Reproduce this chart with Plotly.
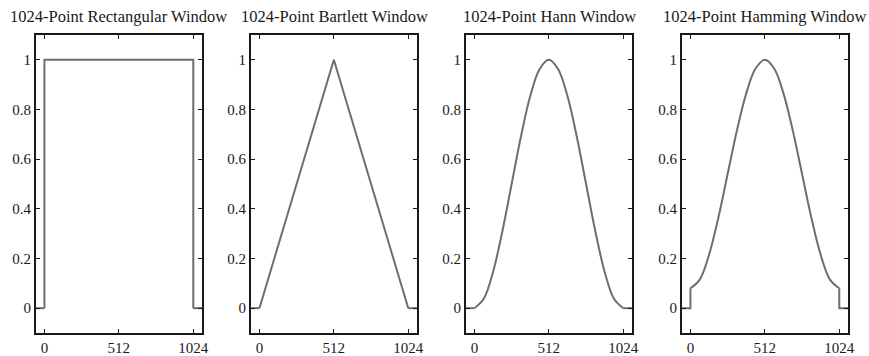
import plotly.graph_objects as go

titles = ["1024-Point Rectangular Window", "1024-Point Bartlett Window",
          "1024-Point Hann Window", "1024-Point Hamming Window"]

# padded zero tails
tail_left_x = [-64, 0]
tail_right_x = [1024, 1088]

# window bodies, sample index and value
rect_x = [0, 0, 1024, 1024]
rect_y = [0, 1, 1, 0]

bart_x = [0, 512, 1024]
bart_y = [0, 1, 0]

n_pts = [0, 64, 128, 192, 256, 320, 384, 448, 512, 576, 640, 704, 768, 832, 896, 960, 1024]
hann_y = [0, 0.038, 0.146, 0.309, 0.5, 0.691, 0.854, 0.962, 1.0,
          0.962, 0.854, 0.691, 0.5, 0.309, 0.146, 0.038, 0]
hamm_y = [0.08, 0.115, 0.215, 0.364, 0.54, 0.716, 0.865, 0.965, 1.0,
          0.965, 0.865, 0.716, 0.54, 0.364, 0.215, 0.115, 0.08]

x_ticks = [0, 512, 1024]
y_ticks = [0, 0.2, 0.4, 0.6, 0.8, 1]
y_tick_text = ["0", "0.2", "0.4", "0.6", "0.8", "1"]

W, H = 869, 356
panels_px = [(36, 202), (251, 417), (466, 632), (682, 848)]
top_px, bot_px = 35, 333
y_dom = [(H - bot_px) / H, (H - top_px) / H]

LINE = dict(color="#6e6e6e", width=2)
FONT = "Liberation Serif, Times New Roman, serif"

fig = go.Figure()

bodies = [
    (rect_x, rect_y, "linear"),
    (bart_x, bart_y, "linear"),
    (n_pts, hann_y, "spline"),
    (n_pts, hamm_y, "spline"),
]

for i, (bx, by, shape) in enumerate(bodies):
    xa = "x" if i == 0 else f"x{i+1}"
    ya = "y" if i == 0 else f"y{i+1}"
    lx = tail_left_x + [0]
    ly = [0, 0, by[0] if shape == "spline" else 0]
    fig.add_trace(go.Scatter(x=lx, y=ly, mode="lines", line=LINE, xaxis=xa, yaxis=ya,
                             showlegend=False, hoverinfo="skip"))
    rx = [1024] + tail_right_x
    ry = [by[-1] if shape == "spline" else 0, 0, 0]
    fig.add_trace(go.Scatter(x=rx, y=ry, mode="lines", line=LINE, xaxis=xa, yaxis=ya,
                             showlegend=False, hoverinfo="skip"))
    fig.add_trace(go.Scatter(x=bx, y=by, mode="lines",
                             line=dict(color=LINE["color"], width=LINE["width"], shape=shape),
                             xaxis=xa, yaxis=ya, showlegend=False))

axis_common = dict(showline=True, linecolor="#1a1a1a", linewidth=2, mirror="ticks",
                   ticks="inside", ticklen=4, tickcolor="#1a1a1a", tickwidth=1,
                   showgrid=False, zeroline=False, automargin=False,
                   tickfont=dict(family=FONT, size=15, color="#1a1a1a"))

layout = dict(width=W, height=H, margin=dict(l=0, r=0, t=0, b=0),
              plot_bgcolor="white", paper_bgcolor="white", showlegend=False)

annotations = []
for i, (x0, x1) in enumerate(panels_px):
    sfx = "" if i == 0 else str(i + 1)
    layout[f"xaxis{sfx}"] = dict(axis_common, domain=[x0 / W, x1 / W],
                                 range=[-58, 1084],
                                 tickvals=x_ticks, ticktext=[str(v) for v in x_ticks],
                                 anchor=f"y{sfx}")
    layout[f"yaxis{sfx}"] = dict(axis_common, domain=y_dom, range=[-0.1, 1.1],
                                 tickvals=y_ticks, ticktext=y_tick_text,
                                 anchor=f"x{sfx}")
    annotations.append(dict(text=titles[i], x=(x0 + x1) / 2 / W,
                            y=1 - 17 / H,
                            xref="paper", yref="paper", showarrow=False,
                            xanchor="center", yanchor="middle",
                            font=dict(family=FONT, size=16.5, color="#1a1a1a")))

layout["annotations"] = annotations
fig.update_layout(**layout)
fig.write_html("out.html", config={"displayModeBar": False},
               post_script="document.body.style.margin='0';document.body.style.overflow='hidden';")
